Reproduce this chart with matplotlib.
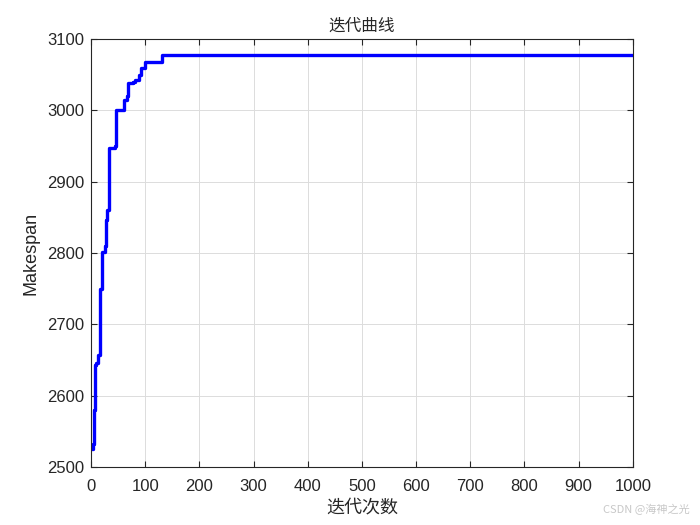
import matplotlib
matplotlib.use('Agg')
import matplotlib.pyplot as plt
import numpy as np

# change points of the convergence curve (iteration, makespan)
change_iters = [0, 4, 5, 6, 7, 8, 9, 12, 13, 16, 17, 20, 21, 26, 28, 30, 33, 45, 46,
                61, 67, 68, 77, 81, 88, 92, 100, 131, 1000]
change_vals = [2525, 2532, 2555, 2580, 2604, 2643, 2646, 2650, 2657, 2748, 2750, 2795,
               2802, 2810, 2846, 2860, 2947, 2950, 3000, 3014, 3020, 3038, 3040, 3043,
               3050, 3059, 3068, 3077, 3077]

x_ticks = list(range(0, 1001, 100))
y_ticks = list(range(2500, 3101, 100))

plt.rcParams['font.family'] = ['Liberation Sans', 'Noto Sans CJK SC']

fig = plt.figure(figsize=(7, 5.25), dpi=100)
ax = fig.add_axes([0.13, 0.1105, 0.774, 0.8152])

ax.plot(change_iters, change_vals, drawstyle='steps-post', color='#0000ff', linewidth=2.4)

ax.set_xlim(0, 1000)
ax.set_ylim(2500, 3100)
ax.set_xticks(x_ticks)
ax.set_yticks(y_ticks)
ax.grid(True, color='#dcdcdc', linewidth=0.7)
ax.set_axisbelow(True)
ax.tick_params(direction='in', top=True, right=True, labelsize=12, length=4,
               colors='#262626')
ax.tick_params(axis='x', pad=9)
ax.tick_params(axis='y', pad=5)
for sp in ax.spines.values():
    sp.set_color('#262626')
    sp.set_linewidth(0.8)

cjk = ['Noto Sans CJK SC', 'DejaVu Sans']
ax.set_title('迭代曲线', family=cjk, fontsize=12, color='#262626', pad=6)
ax.set_xlabel('迭代次数', family=cjk, fontsize=13, color='#262626', labelpad=3)
ax.set_ylabel('Makespan', fontsize=13, color='#262626', labelpad=5)

fig.text(0.985, 0.018, 'CSDN @海神之光', family=cjk, fontsize=8, color='#c8c8c8',
         ha='right', va='bottom')

fig.savefig('out.png', dpi=100)
